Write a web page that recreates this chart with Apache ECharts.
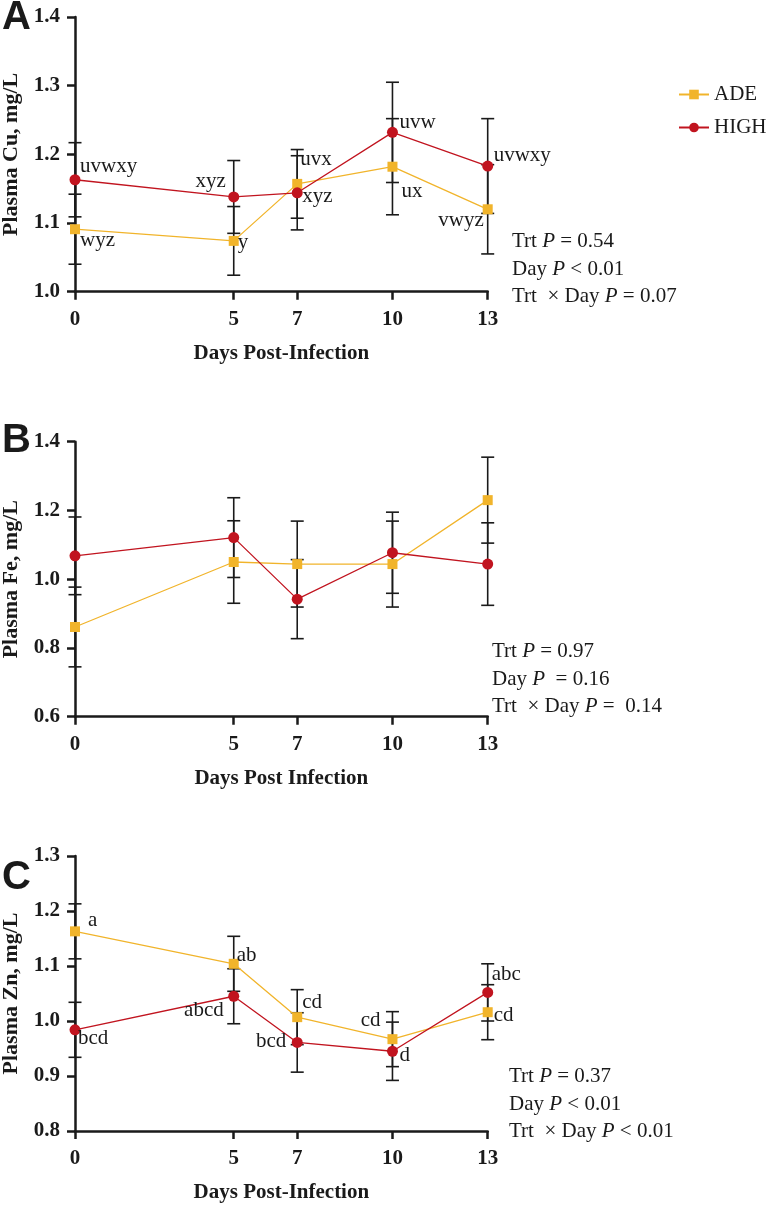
<!DOCTYPE html>
<html>
<head>
<meta charset="utf-8">
<script src="https://cdn.jsdelivr.net/npm/echarts@6/dist/echarts.min.js"></script>
<style>
  html, body { margin: 0; padding: 0; background: #fff; }
  #chart { width: 771px; height: 1208px; }
</style>
</head>
<body>
<div id="chart"></div>
<script>
// days sampled
var days = [0, 5, 7, 10, 13];

// Plasma Cu (A)
var cuADE = [1.091, 1.074, 1.157, 1.182, 1.120];
var cuADEse = [0.051, 0.050, 0.050, 0.070, 0.065];
var cuHIGH = [1.163, 1.138, 1.144, 1.232, 1.183];
var cuHIGHse = [0.054, 0.053, 0.054, 0.073, 0.069];
var cuADEltr = ['wyz', 'y', 'uvx', 'ux', 'vwyz'];
var cuHIGHltr = ['uvwxy', 'xyz', 'xyz', 'uvw', 'uvwxy'];

// Plasma Fe (B)
var feADE = [0.861, 1.050, 1.044, 1.044, 1.230];
var feADEse = [0.116, 0.120, 0.125, 0.125, 0.125];
var feHIGH = [1.068, 1.121, 0.942, 1.077, 1.044];
var feHIGHse = [0.113, 0.116, 0.115, 0.118, 0.120];

// Plasma Zn (C)
var znADE = [1.163, 1.104, 1.007, 0.967, 1.016];
var znADEse = [0.050, 0.050, 0.050, 0.050, 0.050];
var znHIGH = [0.984, 1.045, 0.961, 0.945, 1.052];
var znHIGHse = [0.050, 0.050, 0.054, 0.053, 0.052];
var znADEltr = ['a', 'ab', 'cd', 'cd', 'cd'];
var znHIGHltr = ['bcd', 'abcd', 'bcd', 'd', 'abc'];

var yTitles = ['Plasma Cu, mg/L', 'Plasma Fe, mg/L', 'Plasma Zn, mg/L'];
var xTitles = ['Days Post-Infection', 'Days Post Infection', 'Days Post-Infection'];
var stats = [
  ['Trt {i|P} = 0.54', 'Day {i|P} < 0.01', 'Trt  \u00d7 Day {i|P} = 0.07'],
  ['Trt {i|P} = 0.97', 'Day {i|P}  = 0.16', 'Trt  \u00d7 Day {i|P} =  0.14'],
  ['Trt {i|P} = 0.37', 'Day {i|P} < 0.01', 'Trt  \u00d7 Day {i|P} < 0.01']
];

// label placement next to points: [dx, dy, align]
var cuADEpos = [[5, 11, 'left'], [4, 2, 'left'], [3, -24, 'left'], [9, 25, 'left'], [-4, 11, 'right']];
var cuHIGHpos = [[5, -13, 'left'], [-8, -15, 'right'], [5, 4, 'left'], [7, -10, 'left'], [6, -11, 'left']];
var znADEpos = [[13, -11, 'left'], [3, -8, 'left'], [5, -15, 'left'], [-12, -19, 'right'], [6, 3, 'left']];
var znHIGHpos = [[3, 9, 'left'], [-10, 14, 'right'], [-11, -1, 'right'], [7, 4, 'left'], [4, -18, 'left']];

var YELLOW = '#f1b42b';
var RED = '#c1141f';
var SERIF = "'Liberation Serif', 'Times New Roman', serif";

var mychart = echarts.init(document.getElementById('chart'));

var grids = [
  { left: 75, top: 17, right: 283.3, height: 274.7, outerBoundsMode: 'none' },
  { left: 75, top: 441.7, right: 283.3, height: 275, outerBoundsMode: 'none' },
  { left: 75, top: 856, right: 283.3, height: 275, outerBoundsMode: 'none' }
];
var yRange = [[1.0, 1.4, 0.1], [0.6, 1.4, 0.2], [0.8, 1.3, 0.1]];

function errItem(params, api) {
  var x = api.value(0);
  var p1 = api.coord([x, api.value(2)]);
  var p2 = api.coord([x, api.value(1)]);
  var w = 6.5;
  var st = { stroke: '#1a1a1a', lineWidth: 1.6 };
  return {
    type: 'group',
    children: [
      { type: 'line', shape: { x1: p1[0], y1: p1[1], x2: p2[0], y2: p2[1] }, style: st },
      { type: 'line', shape: { x1: p1[0] - w, y1: p1[1], x2: p1[0] + w, y2: p1[1] }, style: st },
      { type: 'line', shape: { x1: p2[0] - w, y1: p2[1], x2: p2[0] + w, y2: p2[1] }, style: st }
    ]
  };
}

function errSeries(k, vals, se) {
  return {
    type: 'custom',
    xAxisIndex: k,
    yAxisIndex: k,
    z: 2,
    renderItem: errItem,
    encode: { x: 0, y: [1, 2] },
    data: days.map(function (d, i) { return [d, vals[i] - se[i], vals[i] + se[i]]; })
  };
}

function lineSeries(k, name, vals, color, symbol, size, letters, pos) {
  return {
    name: name,
    type: 'line',
    xAxisIndex: k,
    yAxisIndex: k,
    z: 3,
    symbol: symbol,
    symbolSize: size,
    itemStyle: { color: color },
    lineStyle: { color: color, width: 1.3 },
    data: days.map(function (d, i) {
      var item = { value: [d, vals[i]] };
      if (letters) {
        item.label = {
          show: true,
          formatter: letters[i],
          position: 'inside',
          align: pos[i][2],
          verticalAlign: 'middle',
          offset: [pos[i][0], pos[i][1]],
          color: '#1a1a1a',
          fontFamily: SERIF,
          fontSize: 21
        };
      }
      return item;
    })
  };
}

var xAxes = [], yAxes = [];
for (var k = 0; k < 3; k++) {
  xAxes.push({
    type: 'value',
    gridIndex: k,
    min: 0,
    max: 13,
    name: xTitles[k],
    nameLocation: 'middle',
    nameGap: 51,
    nameTextStyle: { fontFamily: SERIF, fontWeight: 'bold', fontSize: 21, color: '#1a1a1a' },
    axisLine: { lineStyle: { color: '#1a1a1a', width: 2.5 } },
    axisTick: { length: 8, lineStyle: { color: '#1a1a1a', width: 2.5 }, customValues: days },
    axisLabel: { customValues: days, margin: 17, fontFamily: SERIF, fontWeight: 'bold', fontSize: 21, color: '#1a1a1a' },
    splitLine: { show: false }
  });
  yAxes.push({
    type: 'value',
    gridIndex: k,
    min: yRange[k][0],
    max: yRange[k][1],
    interval: yRange[k][2],
    name: yTitles[k],
    nameLocation: 'middle',
    nameGap: 53,
    nameTextStyle: { fontFamily: SERIF, fontWeight: 'bold', fontSize: 22, color: '#1a1a1a' },
    axisLine: { show: true, lineStyle: { color: '#1a1a1a', width: 2.5 } },
    axisTick: { show: true, length: 8, lineStyle: { color: '#1a1a1a', width: 2.5 } },
    axisLabel: {
      margin: 15, fontFamily: SERIF, fontWeight: 'bold', fontSize: 21, color: '#1a1a1a',
      formatter: function (v) { return v.toFixed(1); }
    },
    splitLine: { show: false }
  });
}

var series = [
  errSeries(0, cuADE, cuADEse),
  errSeries(0, cuHIGH, cuHIGHse),
  lineSeries(0, 'ADE', cuADE, YELLOW, 'rect', 10, cuADEltr, cuADEpos),
  lineSeries(0, 'HIGH', cuHIGH, RED, 'circle', 11, cuHIGHltr, cuHIGHpos),
  errSeries(1, feADE, feADEse),
  errSeries(1, feHIGH, feHIGHse),
  lineSeries(1, 'ADE', feADE, YELLOW, 'rect', 10),
  lineSeries(1, 'HIGH', feHIGH, RED, 'circle', 11),
  errSeries(2, znADE, znADEse),
  errSeries(2, znHIGH, znHIGHse),
  lineSeries(2, 'ADE', znADE, YELLOW, 'rect', 10, znADEltr, znADEpos),
  lineSeries(2, 'HIGH', znHIGH, RED, 'circle', 11, znHIGHltr, znHIGHpos)
];

// panel letters and stats text
var graphics = [];
var panelTags = [['A', 20], ['B', 442.5], ['C', 879.5]];
panelTags.forEach(function (t) {
  graphics.push({
    type: 'text', left: 2, top: t[1] - 22,
    style: { text: t[0], font: "bold 40px 'Liberation Sans', Arial, sans-serif", fill: '#1a1a1a' }
  });
});
var statPos = [[512, 241.7], [492, 651.7], [509, 1076.7]];
stats.forEach(function (lines, k) {
  lines.forEach(function (txt, j) {
    graphics.push({
      type: 'text',
      x: statPos[k][0],
      y: statPos[k][1] + j * 27.5,
      style: {
        text: txt,
        fontFamily: SERIF,
        fontSize: 21,
        fill: '#1a1a1a',
        verticalAlign: 'middle',
        rich: { i: { fontStyle: 'italic', fontFamily: SERIF, fontSize: 21 } }
      }
    });
  });
});

var option = {
  animation: false,
  backgroundColor: '#fff',
  grid: grids,
  xAxis: xAxes,
  yAxis: yAxes,
  legend: {
    data: ['ADE', 'HIGH'],
    orient: 'vertical',
    left: 673,
    top: 79,
    itemWidth: 30,
    itemHeight: 12,
    itemGap: 12,
    textStyle: { fontFamily: SERIF, fontSize: 21, color: '#1a1a1a' }
  },
  graphic: graphics,
  series: series
};

mychart.setOption(option);
</script>
</body>
</html>
